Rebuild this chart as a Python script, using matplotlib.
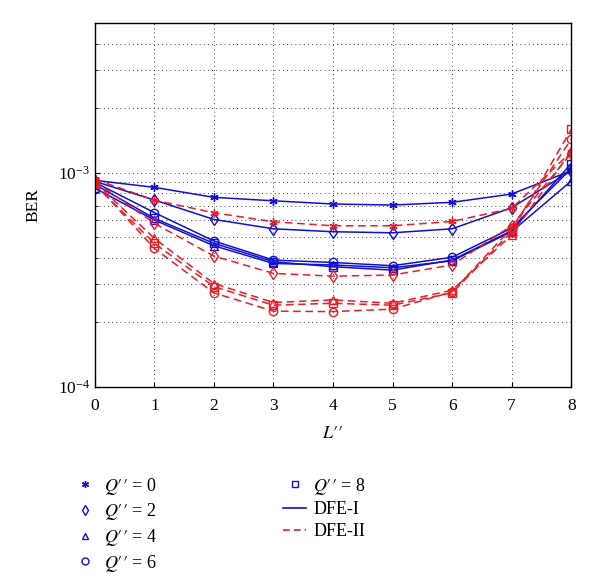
import numpy as np
import matplotlib
matplotlib.use('Agg')
import matplotlib.pyplot as plt
from matplotlib.lines import Line2D

plt.rcParams['font.family'] = ['Liberation Serif', 'DejaVu Serif']
plt.rcParams['mathtext.fontset'] = 'stix'

# 数据：横轴 L''，纵轴 BER（×1e-3）
L = [0, 1, 2, 3, 4, 5, 6, 7, 8]
q_vals = [0, 2, 4, 6, 8]
markers = [(6, 2, 0), 'd', '^', 'o', 's']

# DFE-I（蓝色实线）
dfe1_q0 = [0.92, 0.853, 0.766, 0.738, 0.713, 0.705, 0.726, 0.794, 1.02]
dfe1_q2 = [0.91, 0.744, 0.604, 0.546, 0.529, 0.523, 0.546, 0.685, 1.02]
dfe1_q4 = [0.846, 0.600, 0.455, 0.376, 0.370, 0.359, 0.387, 0.530, 0.913]
dfe1_q6 = [0.90, 0.650, 0.479, 0.390, 0.380, 0.367, 0.402, 0.550, 1.045]
dfe1_q8 = [0.88, 0.611, 0.467, 0.383, 0.363, 0.350, 0.390, 0.535, 1.10]

# DFE-II（红色虚线）
dfe2_q0 = [0.93, 0.744, 0.649, 0.589, 0.564, 0.564, 0.591, 0.680, 1.25]
dfe2_q2 = [0.91, 0.579, 0.407, 0.338, 0.328, 0.332, 0.370, 0.565, 1.23]
dfe2_q4 = [0.90, 0.493, 0.303, 0.247, 0.254, 0.245, 0.282, 0.511, 1.26]
dfe2_q6 = [0.89, 0.442, 0.274, 0.225, 0.224, 0.230, 0.277, 0.550, 1.43]
dfe2_q8 = [0.88, 0.467, 0.293, 0.240, 0.245, 0.240, 0.274, 0.530, 1.59]

dfe1 = [dfe1_q0, dfe1_q2, dfe1_q4, dfe1_q6, dfe1_q8]
dfe2 = [dfe2_q0, dfe2_q2, dfe2_q4, dfe2_q6, dfe2_q8]

blue = '#1010d0'
red = '#ec1c24'

fig = plt.figure(figsize=(6, 5.83), dpi=100)
ax = fig.add_axes([0.158, 0.337, 0.794, 0.6235])

for ys, m in zip(dfe1, markers):
    ax.plot(L, np.array(ys) * 1e-3, color=blue, lw=1.1, marker=m,
            markersize=6, markerfacecolor='none', markeredgewidth=1.0)
for ys, m in zip(dfe2, markers):
    ax.plot(L, np.array(ys) * 1e-3, color=red, lw=1.1, ls=(0, (5, 3)), marker=m,
            markersize=6, markerfacecolor='none', markeredgewidth=1.0)

ax.set_yscale('log')
ax.set_ylim(1e-4, 5e-3)
ax.set_xlim(0, 8)
ax.set_xticks(L)
ax.grid(True, which='both', color='k', ls=(0, (1, 4)), lw=0.6)
ax.tick_params(which='both', direction='in', labelsize=12.5)
ax.tick_params(axis='x', pad=8)
for s in ax.spines.values():
    s.set_linewidth(1.0)

ax.set_xlabel(r"$L\prime\prime$", fontsize=13, labelpad=8)
ax.set_ylabel('BER', fontsize=12.5, labelpad=12)

# 图例
handles = []
for q, m in zip(q_vals[:4], markers[:4]):
    handles.append(Line2D([], [], color=blue, ls='none', marker=m, markersize=5,
                          markerfacecolor='none', label=r"$Q\prime\prime$ = %d" % q))
handles.append(Line2D([], [], color=blue, ls='none', marker=markers[4], markersize=5,
                      markerfacecolor='none', label=r"$Q\prime\prime$ = %d" % q_vals[4]))
handles.append(Line2D([], [], color=blue, lw=1.2, label='DFE-I'))
handles.append(Line2D([], [], color=red, lw=1.2, ls=(0, (4, 2.5)), label='DFE-II'))

fig.legend(handles=handles, ncol=2, frameon=False, fontsize=13,
           loc='upper left', bbox_to_anchor=(0.096, 0.212),
           handlelength=1.25, handletextpad=0.4, columnspacing=7.0,
           labelspacing=0.26)

fig.savefig('out.png', dpi=100)
